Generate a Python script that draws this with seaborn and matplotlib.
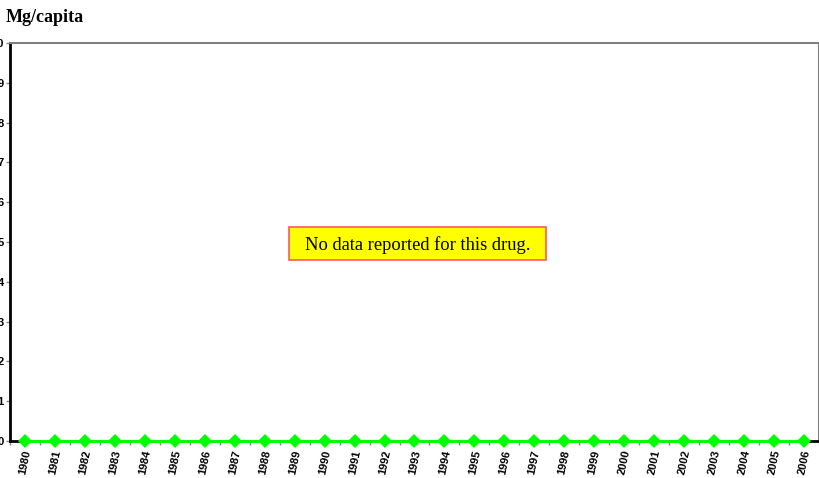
import matplotlib
matplotlib.use("Agg")
import matplotlib.pyplot as plt
from matplotlib.patches import Rectangle
import seaborn as sns
import pandas as pd
import numpy as np

years = [str(y) for y in range(1980, 2007)]
values = [0] * len(years)
y_ticks = list(range(0, 11))

sns.set_style("white")
plt.rcParams["font.family"] = ["Liberation Sans", "DejaVu Sans"]
plt.rcParams["text.color"] = "black"
plt.rcParams["xtick.color"] = "black"
plt.rcParams["ytick.color"] = "black"

df = pd.DataFrame({"year": years, "value": values, "pos": np.arange(len(years))})

fig = plt.figure(figsize=(8.2, 4.78), dpi=100)
ax = fig.add_axes([10 / 820, 1 - 441 / 478, 809 / 820, 398 / 478])

sns.lineplot(data=df, x="pos", y="value", ax=ax, color="#00ff00", linewidth=2.2,
             marker="D", markersize=7, markeredgewidth=0, zorder=5, clip_on=False)

ax.set_xlim(-0.5, len(years) - 0.5)
ax.set_ylim(0, 10)
ax.set_xlabel("")
ax.set_ylabel("")

ax.set_xticks(df["pos"])
ax.set_xticklabels(years, rotation=78, fontsize=8, fontweight="bold",
                   ha="center", va="top", color="black")
ax.set_xticks(np.arange(-0.5, len(years), 1), minor=True)
ax.tick_params(axis="x", which="major", length=0, pad=6)
ax.tick_params(axis="x", which="minor", length=3, width=1, color="#888888",
               direction="out", bottom=True)

ax.set_yticks(y_ticks)
ax.set_yticklabels([str(v) for v in y_ticks], fontsize=8, fontweight="bold", color="black")
ax.tick_params(axis="y", length=3, width=1, color="#888888", direction="out",
               left=True, pad=1.5)

for side in ("left", "bottom"):
    ax.spines[side].set_color("black")
    ax.spines[side].set_linewidth(2)
for side in ("top", "right"):
    ax.spines[side].set_color("#808080")
    ax.spines[side].set_linewidth(1.5)

fig.text(6 / 820, 1 - 17 / 478, "Mg/capita", family="Liberation Serif",
         fontweight="bold", fontsize=13, ha="left", va="center", color="black")

# message box in the middle of the plot area
box_x0, box_x1 = (289 - 10) / 809, (546 - 10) / 809
box_y0, box_y1 = (441 - 260) / 398, (441 - 227) / 398
ax.add_patch(Rectangle((box_x0, box_y0), box_x1 - box_x0, box_y1 - box_y0,
                       transform=ax.transAxes, facecolor="#ffff00",
                       edgecolor="#ff5a5a", linewidth=1.2, zorder=6))
ax.text((box_x0 + box_x1) / 2, (box_y0 + box_y1) / 2, "No data reported for this drug.",
        transform=ax.transAxes, family="Liberation Serif", fontsize=13.3,
        ha="center", va="center_baseline", zorder=7, color="black")

fig.savefig("out.png", dpi=100)
